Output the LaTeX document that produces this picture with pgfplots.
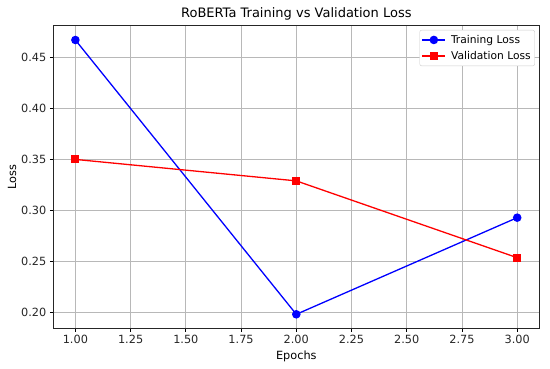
\documentclass[border=0pt]{standalone}
\usepackage{pgfplots}
\pgfplotsset{compat=1.18}
\usepackage{fontspec}
\setmainfont{DejaVu Sans}
\begin{document}
\begin{tikzpicture}[x=1pt,y=1pt]
\useasboundingbox (-53.3,-40.7) rectangle (496.7,328.3);
\begin{axis}[
  at={(0,0)}, anchor=south west,
  scale only axis, width=486pt, height=302.6pt,
  xmin=0.9, xmax=3.1, ymin=0.1847, ymax=0.4809,
  xtick={1,1.25,1.5,1.75,2,2.25,2.5,2.75,3},
  ytick={0.2,0.25,0.3,0.35,0.4,0.45},
  xticklabel style={/pgf/number format/.cd,fixed,fixed zerofill,precision=2},
  yticklabel style={/pgf/number format/.cd,fixed,fixed zerofill,precision=2},
  /pgf/number format/assume math mode=true,
  tick label style={font=\fontsize{11.3}{13}\selectfont, color=black!85},
  label style={font=\fontsize{11.3}{13}\selectfont},
  xlabel={Epochs}, ylabel={Loss},
  xlabel style={yshift=0pt}, ylabel style={yshift=-2pt},
  title={RoBERTa Training vs Validation Loss},
  title style={font=\fontsize{13}{15}\selectfont, yshift=-4pt},
  grid=major, major grid style={color=black!28, line width=0.8pt},
  tick align=outside, major tick length=3.5pt,
  tick style={black, line width=0.8pt},
  axis line style={black!85, line width=0.8pt},
  xtick pos=bottom, ytick pos=left,
  legend style={at={(0.991,0.986)}, anchor=north east, draw=black!20, rounded corners=2pt,
    font=\fontsize{10.7}{12}\selectfont, row sep=2.5pt, inner xsep=2pt, inner ysep=3pt,
    /tikz/every odd column/.style={column sep=3pt}},
  legend cell align=left,
  legend image code/.code={\draw[#1] (0pt,0pt) -- (23pt,0pt); \draw[#1,only marks] plot coordinates {(11.5pt,0pt)};},
]
\addplot[blue, line width=1.3pt, mark=*, mark size=3.6pt, mark options={solid}] coordinates {(1,0.4669) (2,0.1984) (3,0.2930)};
\addlegendentry{Training Loss}
\addplot[red, line width=1.3pt, mark=square*, mark size=3.3pt, mark options={solid}] coordinates {(1,0.3500) (2,0.3290) (3,0.2538)};
\addlegendentry{Validation Loss}
\end{axis}
\end{tikzpicture}
\end{document}
